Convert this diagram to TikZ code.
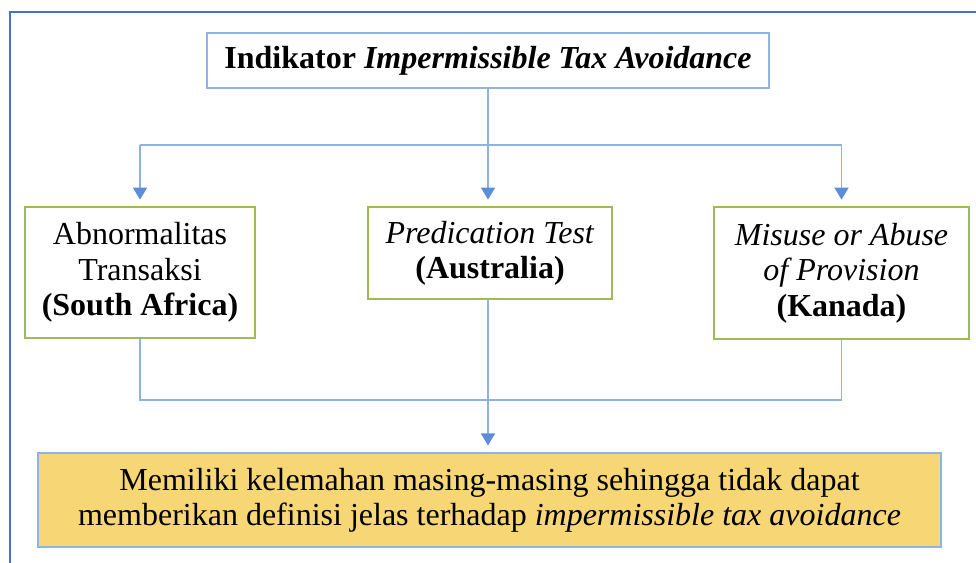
\documentclass[tikz,border=0pt]{standalone}
\usepackage{fontspec}
\setmainfont{Liberation Serif}
\usetikzlibrary{arrows.meta}
\definecolor{frameblue}{HTML}{4472C4}
\definecolor{lightblue}{HTML}{8EB4E3}
\definecolor{connblue}{HTML}{8DB3E2}
\definecolor{arrowblue}{HTML}{5B8ED6}
\definecolor{boxgreen}{HTML}{9BBB59}
\definecolor{goldfill}{HTML}{F7D775}
\begin{document}
\begin{tikzpicture}[x=0.75pt,y=-0.75pt,
  txt/.style={font=\fontsize{24}{26.5}\selectfont, align=center, inner sep=0pt},
  topbox/.style={txt, draw=lightblue, line width=1.3pt},
  greenbox/.style={txt, draw=boxgreen, line width=1.1pt},
  goldbox/.style={txt, draw=lightblue, fill=goldfill, line width=1.3pt},
  conn/.style={draw=connblue, line width=1.1pt},
  arr/.style={conn, -{Triangle[width=10.5pt,length=9pt,color=arrowblue]}, shorten >=5pt}]
\useasboundingbox (0,0) rectangle (976,562);
\begin{scope}
\clip (0,0) rectangle (976,562);
\draw[frameblue, line width=1.6pt] (10,12) rectangle (1000,600);
\end{scope}

\node[topbox, minimum width=421.5pt, minimum height=41.25pt] (top) at (488,60.5)
  {\textbf{Indikator \textit{Impermissible Tax Avoidance}}};

\node[greenbox, minimum width=172.5pt, minimum height=98.25pt] (left) at (140,272.5)
  {Abnormalitas\\Transaksi\\\textbf{(South Africa)}};
\node[greenbox, minimum width=183pt, minimum height=69pt] (mid) at (490,253)
  {\textit{Predication Test}\\\textbf{(Australia)}};
\node[greenbox, minimum width=191.25pt, minimum height=99pt] (right) at (841.5,273)
  {\textit{Misuse or Abuse}\\\textit{of Provision}\\\textbf{(Kanada)}};

\node[goldbox, minimum width=677.25pt, minimum height=70.5pt] (bottom) at (489.5,500)
  {Memiliki kelemahan masing-masing sehingga tidak dapat\\memberikan definisi jelas terhadap \textit{impermissible tax avoidance}};

\coordinate (hub) at (488,145);
\coordinate (join) at (488,400);

\draw[conn] (top.south) -- (hub);
\draw[conn] (hub -| left.north) -- (hub -| right.north);
\draw[arr] (hub -| left.north) -- (left.north);
\draw[arr] (hub) -- (hub |- mid.north);
\draw[arr] (hub -| right.north) -- (right.north);

\draw[conn] (left.south) -- (join -| left.south) -- (join -| right.south) -- (right.south);
\draw[arr] (join |- mid.south) -- (join |- bottom.north);
\end{tikzpicture}
\end{document}
